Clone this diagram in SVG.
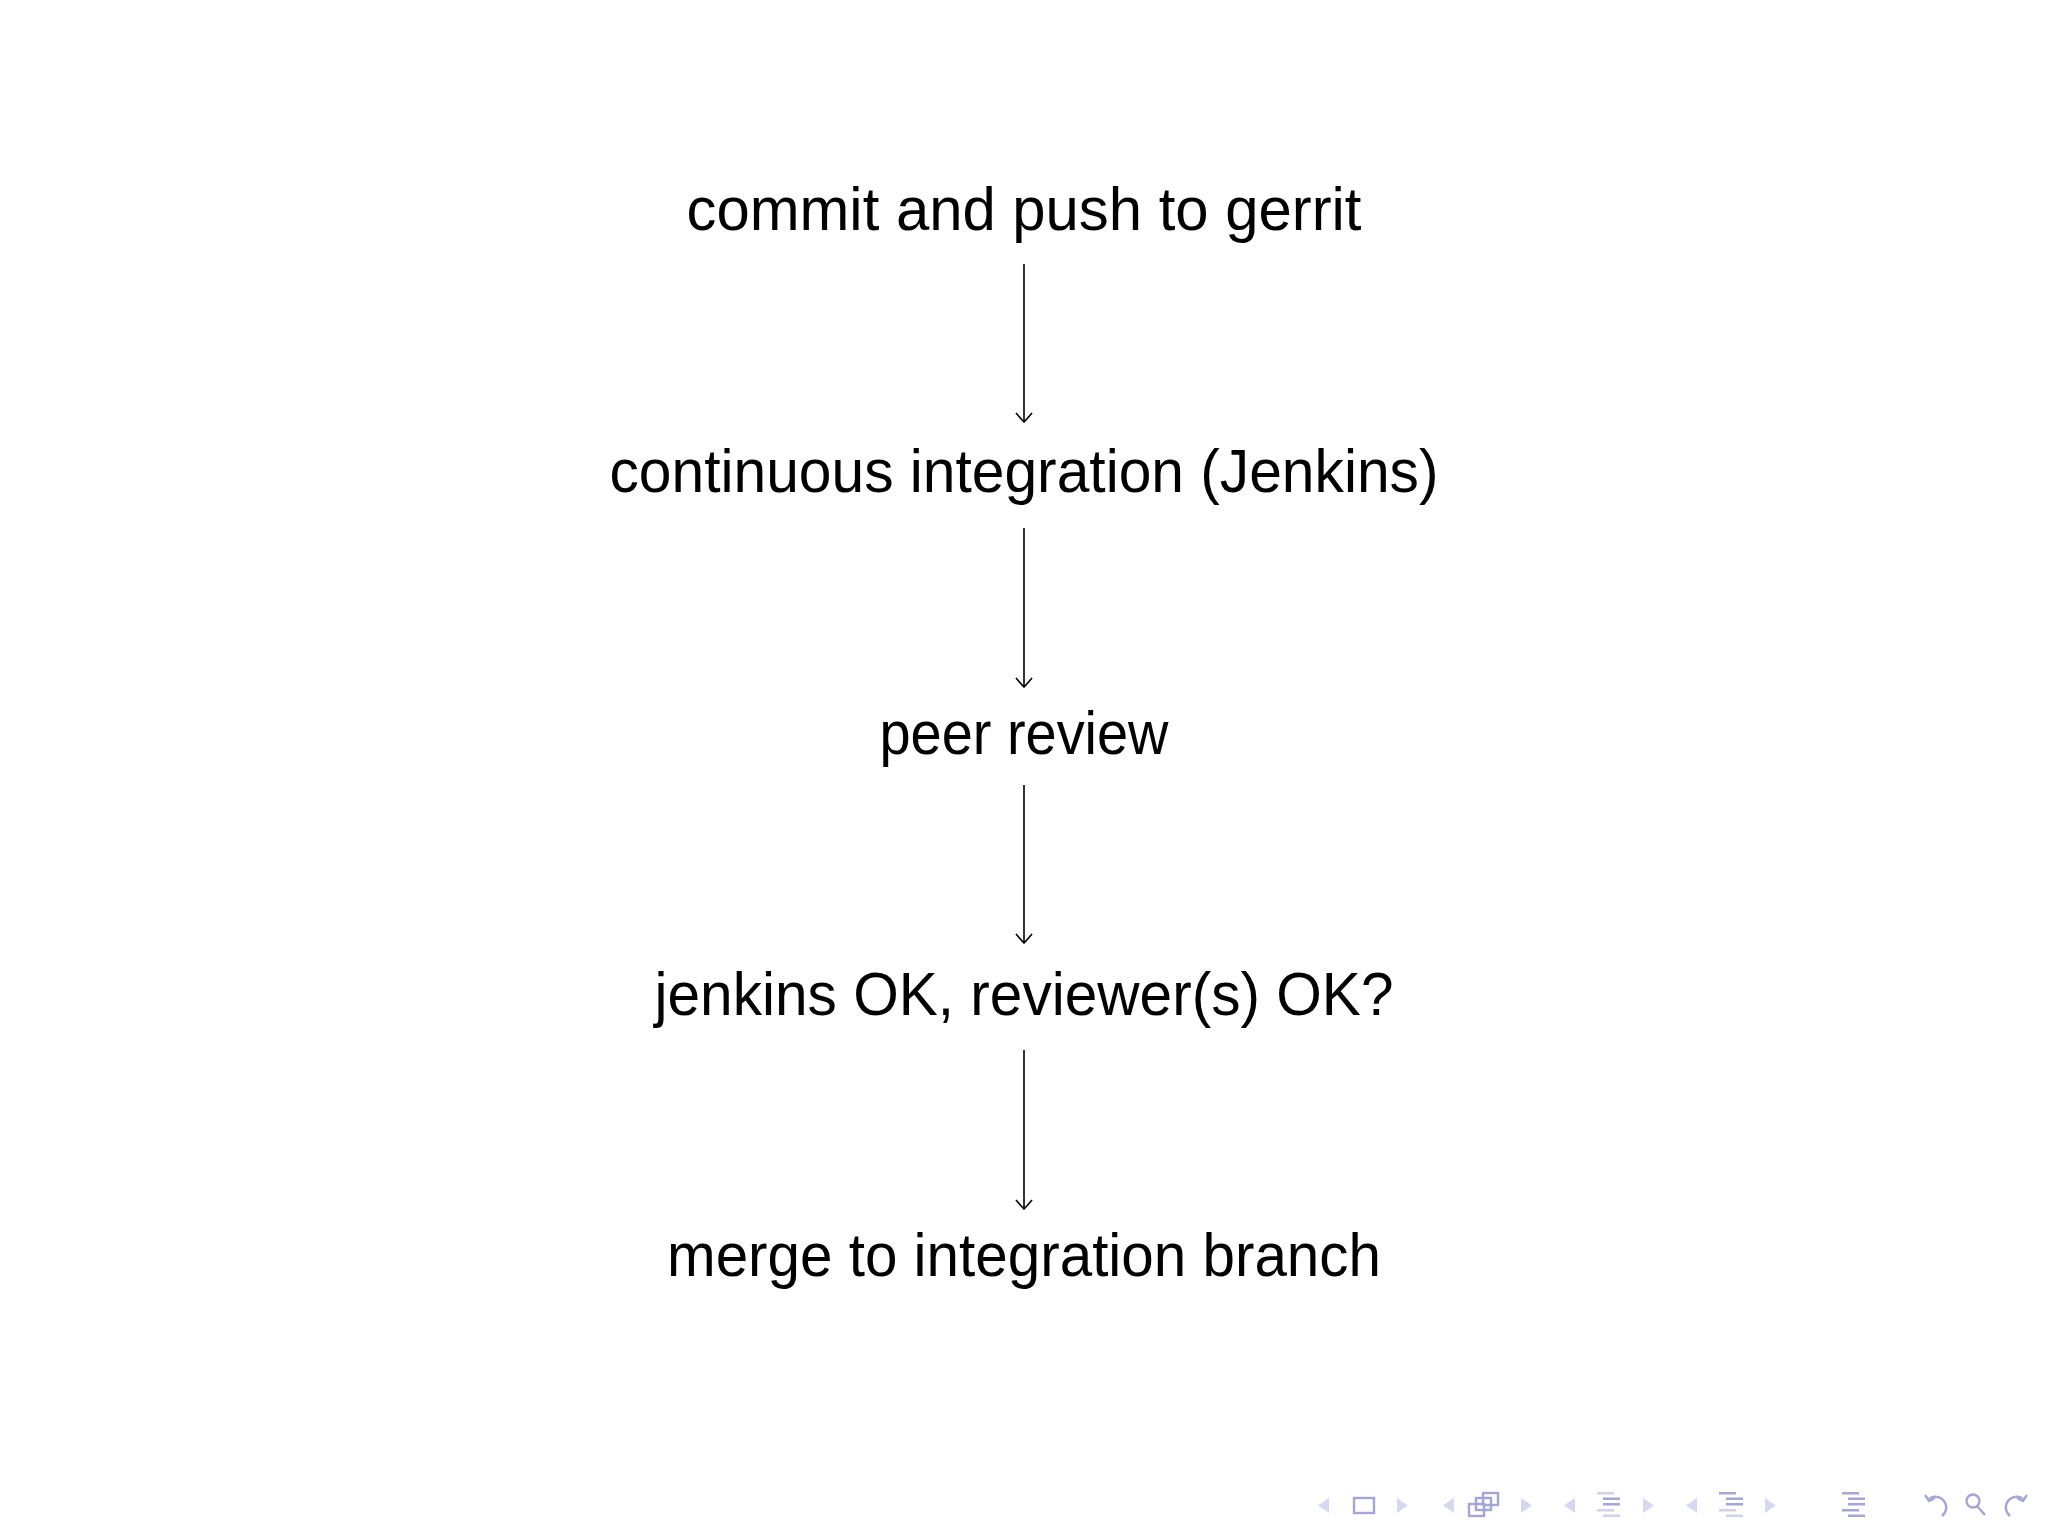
<svg xmlns="http://www.w3.org/2000/svg" width="2048" height="1536" viewBox="0 0 2048 1536">
<defs>
<style>
.lbl{font-family:"Liberation Sans",Arial,sans-serif;font-size:61px;fill:#000;text-anchor:middle}
.edge{stroke:#000;stroke-width:1.6;fill:none}
.tri{fill:#d7d7ed}
.ico{stroke:#a5a5d8;stroke-width:2.4;fill:none}
.bar{fill:#a5a5d8}
.barl{fill:#d2d2eb}
</style>
<marker id="ah" viewBox="-12 -10 14 20" markerWidth="14" markerHeight="20" refX="0" refY="0" orient="auto" markerUnits="userSpaceOnUse">
<path d="M-9,-8 Q-2,-2 0,0 Q-2,2 -9,8" stroke="#000" stroke-width="1.6" fill="none"/>
</marker>
</defs>
<rect width="2048" height="1536" fill="#fff"/>
<g id="connectors">
<line class="edge" x1="1024" y1="264" x2="1024" y2="422" marker-end="url(#ah)"/>
<line class="edge" x1="1024" y1="528" x2="1024" y2="687" marker-end="url(#ah)"/>
<line class="edge" x1="1024" y1="785" x2="1024" y2="943" marker-end="url(#ah)"/>
<line class="edge" x1="1024" y1="1050" x2="1024" y2="1209" marker-end="url(#ah)"/>
</g>
<g id="n1"><text class="lbl" x="1024" y="230" textLength="675" lengthAdjust="spacingAndGlyphs">commit and push to gerrit</text></g>
<g id="n2"><text class="lbl" x="1024" y="492" textLength="829" lengthAdjust="spacingAndGlyphs">continuous integration (Jenkins)</text></g>
<g id="n3"><text class="lbl" x="1024" y="754" textLength="289" lengthAdjust="spacingAndGlyphs">peer review</text></g>
<g id="n4"><text class="lbl" x="1024" y="1015" textLength="739" lengthAdjust="spacingAndGlyphs">jenkins OK, reviewer(s) OK?</text></g>
<g id="n5"><text class="lbl" x="1024" y="1276" textLength="714" lengthAdjust="spacingAndGlyphs">merge to integration branch</text></g>
<g id="nav">
<path class="tri" d="M1318,1505.5 l11,-7.5 v15 z"/>
<rect class="ico" x="1354" y="1498" width="20" height="15"/>
<path class="tri" d="M1408,1505.5 l-11,-7.5 v15 z"/>
<path class="tri" d="M1443,1505.5 l11,-7.5 v15 z"/>
<rect class="ico" x="1483" y="1493" width="15" height="12" fill="#fff"/>
<rect class="ico" x="1476" y="1498" width="15" height="12" fill="#fff"/>
<rect class="ico" x="1469" y="1504" width="15" height="12" fill="#fff"/>
<path class="tri" d="M1532,1505.5 l-11,-7.5 v15 z"/>
<path class="tri" d="M1564,1505.5 l11,-7.5 v15 z"/>
<rect class="barl" x="1597" y="1492" width="17" height="2.5"/>
<rect class="bar" x="1603" y="1497.5" width="17" height="2.5"/>
<rect class="bar" x="1603" y="1503" width="17" height="2.5"/>
<rect class="barl" x="1597" y="1509" width="17" height="2.5"/>
<rect class="barl" x="1603" y="1514.5" width="17" height="2.5"/>
<path class="tri" d="M1654,1505.5 l-11,-7.5 v15 z"/>
<path class="tri" d="M1686,1505.5 l11,-7.5 v15 z"/>
<rect class="bar" x="1719" y="1492" width="17" height="2.5"/>
<rect class="bar" x="1726" y="1497.5" width="17" height="2.5"/>
<rect class="bar" x="1726" y="1503" width="17" height="2.5"/>
<rect class="barl" x="1719" y="1509" width="17" height="2.5"/>
<rect class="barl" x="1726" y="1514.5" width="17" height="2.5"/>
<path class="tri" d="M1776,1505.5 l-11,-7.5 v15 z"/>
<rect class="bar" x="1842" y="1492" width="17" height="2.5"/>
<rect class="bar" x="1848" y="1497.5" width="17" height="2.5"/>
<rect class="bar" x="1848" y="1503" width="17" height="2.5"/>
<rect class="bar" x="1842" y="1509" width="17" height="2.5"/>
<rect class="bar" x="1848" y="1514.5" width="17" height="2.5"/>
<path class="ico" d="M1929,1499 A10,10 0 1 1 1942,1516"/>
<path class="ico" d="M1925,1495 l4,6 l6,-3"/>
<circle class="ico" cx="1973" cy="1501" r="6.5"/>
<path class="ico" d="M1977,1506 l8,9"/>
<path class="ico" d="M2023,1499 A10,10 0 1 0 2010,1516"/>
<path class="ico" d="M2027,1495 l-4,6 l-6,-3"/>
</g>
</svg>
